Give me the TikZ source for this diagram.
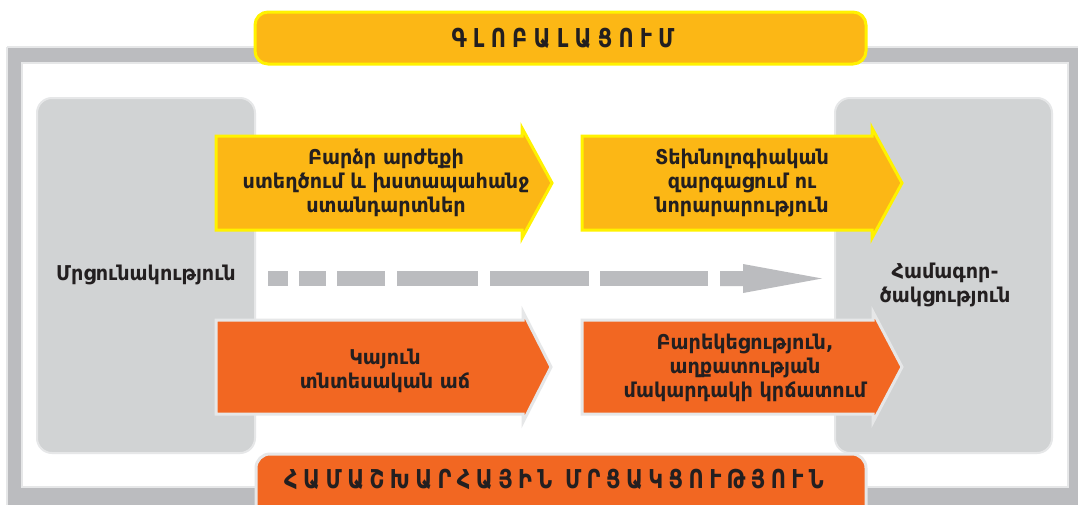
\documentclass[tikz,border=0pt]{standalone}
\usepackage{fontspec}
\setmainfont{DejaVu Sans}
\newfontfamily\bannerfont{DejaVu Sans}[LetterSpace=24,FakeStretch=0.8]
\newfontfamily\bannerfontb{DejaVu Sans}[LetterSpace=21,FakeStretch=0.8]
\newfontfamily\boxfont{DejaVu Sans}[FakeStretch=0.94]
\definecolor{armcolor0001}{RGB}{187,188,191}
\definecolor{armcolor0002}{RGB}{209,211,212}
\definecolor{armcolor0003}{RGB}{230,231,232}
\definecolor{armcolor0004}{RGB}{252,183,21}
\definecolor{armcolor0005}{RGB}{255,242,0}
\definecolor{armcolor0006}{RGB}{242,103,34}
\definecolor{armcolor0007}{RGB}{35,31,32}
\begin{document}
\begin{tikzpicture}[x=1pt,y=-1pt
,astyle0/.style={fill=armcolor0001}
,astyle1/.style={color=armcolor0003,fill=armcolor0002,line width=2pt}
,astyle2/.style={color=armcolor0005,fill=armcolor0004,line width=3pt}
,astyle3/.style={color=armcolor0003,fill=armcolor0006,line width=3pt}
,astyle4/.style={color=armcolor0003,line width=1.5pt}
,tstyle0/.style={color=armcolor0007,font=\boxfont\bfseries\fontsize{20.4}{24}\selectfont,align=center}
,tstyle1/.style={color=armcolor0007,font=\bannerfont\bfseries\fontsize{26}{28}\selectfont}
,tstyle2/.style={color=armcolor0007,font=\bannerfontb\bfseries\fontsize{26}{28}\selectfont}
]
\useasboundingbox (0,0) rectangle (1078,504);
\fill[white] (0,0) rectangle (1078,504);
% frame
\fill[astyle0,even odd rule] (7,47) rectangle (1090,520) (22,63) rectangle (1068,487);
\draw[astyle4] (7,47) -- (1090,47) (7,47) -- (7,520);
\draw[astyle4] (22,487) -- (22,63) -- (1068,63) -- (1068,487) -- cycle;
% side boxes
\draw[astyle1,rounded corners=15pt] (37,98) rectangle (255,453);
\draw[astyle1,rounded corners=15pt] (835,98) rectangle (1052,453);
% banners
\draw[astyle2,rounded corners=13pt] (255,64) -- (255,12) -- (866,12) -- (866,64) -- cycle;
\node (glob) at (563,38)[tstyle1]{ԳԼՈԲԱԼԱՑՈՒՄ};
\draw[astyle3,rounded corners=14pt] (256,530) -- (256,454) -- (866,454) -- (866,530);
\node (compet) at (554,479)[tstyle2]{ՀԱՄԱՇԽԱՐՀԱՅԻՆ ՄՐՑԱԿՑՈՒԹՅՈՒՆ};
% arrows
\draw[astyle2] (216,136) -- (522,136) -- (522,128) -- (552,183) -- (522,238) -- (522,230) -- (216,230) -- cycle;
\draw[astyle2] (582,136) -- (872,136) -- (872,128) -- (902,183) -- (872,238) -- (872,230) -- (582,230) -- cycle;
\draw[astyle3] (216,320) -- (523,320) -- (523,312) -- (551,367) -- (523,422) -- (523,414) -- (216,414) -- cycle;
\draw[astyle3] (582,320) -- (873,320) -- (873,312) -- (902,367) -- (873,422) -- (873,414) -- (582,414) -- cycle;
% dashed gray arrow
\foreach \a/\b in {268/288,299/326,337/385,397/478,490/589,600/708}
  \fill[astyle0] (\a,271) rectangle (\b,286);
\fill[astyle0] (720,271) -- (743,271) -- (743,264) -- (822,278.5) -- (743,293) -- (743,286) -- (720,286) -- cycle;
% texts
\node (compete) at (146,275)[tstyle0]{Մրցունակություն};
\node (partner) at (945,285)[tstyle0]{Համագոր-\\ծակցություն};
\node (value) at (386,183)[tstyle0]{Բարձր արժեքի\\ստեղծում և խստապահանջ\\ստանդարտներ};
\node (tech) at (742,183)[tstyle0]{Տեխնոլոգիական\\զարգացում ու\\նորարարություն};
\node (growth) at (385,371)[tstyle0]{Կայուն\\տնտեսական աճ};
\node (welfare) at (745,368)[tstyle0]{Բարեկեցություն,\\աղքատության\\մակարդակի կրճատում};
\end{tikzpicture}
\end{document}
